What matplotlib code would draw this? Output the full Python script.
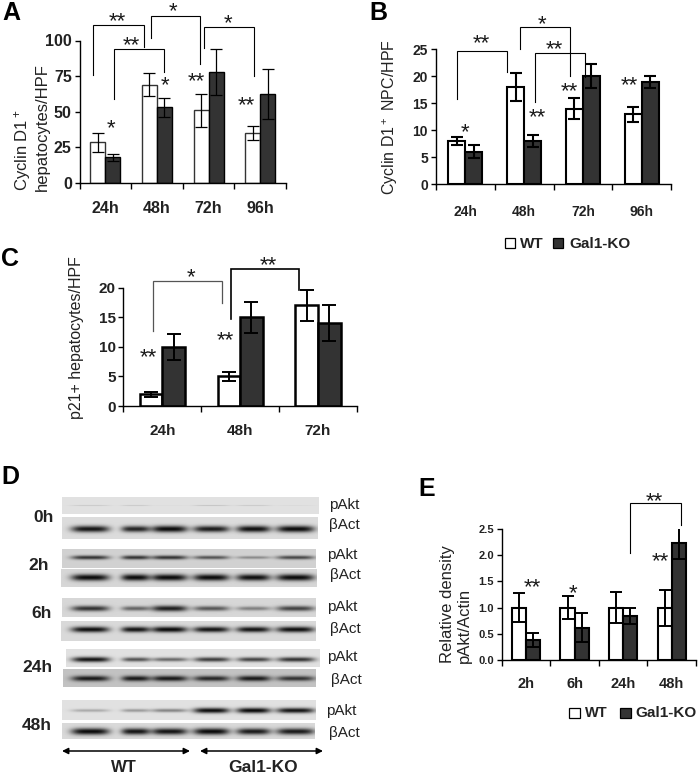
import numpy as np
import matplotlib
matplotlib.use('Agg')
import matplotlib.pyplot as plt
from matplotlib.patches import Rectangle

plt.rcParams['font.family'] = ['Liberation Sans', 'DejaVu Sans']
plt.rcParams['mathtext.default'] = 'regular'

W, H = 698, 774
DARK = '#333333'

# panel A
a_cats = ['24h', '48h', '72h', '96h']
a_wt = [28.5, 69, 51, 35]
a_ko = [18, 53, 78, 62.5]
a_wt_err = [6.5, 8, 11.5, 5]
a_ko_err = [2.3, 7, 16, 17.5]

# panel B
b_cats = ['24h', '48h', '72h', '96h']
b_wt = [8, 18, 14, 13]
b_ko = [6, 8, 20, 19]
b_wt_err = [0.8, 2.6, 2, 1.4]
b_ko_err = [1.2, 1.1, 2.2, 1.1]

# panel C
c_cats = ['24h', '48h', '72h']
c_wt = [2, 5, 17]
c_ko = [10, 15, 14]
c_wt_err = [0.4, 0.7, 2.6]
c_ko_err = [2.2, 2.6, 3]

# panel E
e_cats = ['2h', '6h', '24h', '48h']
e_wt = [1, 1, 1, 1]
e_ko = [0.38, 0.62, 0.84, 2.22]
e_wt_err = [0.27, 0.22, 0.29, 0.34]
e_ko_err = [0.13, 0.27, 0.15, 0.3]

# panel D, band strength of the six lanes, one list per blot row
blot_times = ['0h', '2h', '6h', '24h', '48h']
pakt_bands = [
    [0.10, 0.10, 0.02, 0.12, 0.10, 0.03],
    [0.78, 0.78, 0.78, 0.62, 0.35, 0.68],
    [0.80, 0.55, 0.90, 0.62, 0.42, 0.72],
    [0.95, 0.65, 0.55, 0.75, 0.72, 0.80],
    [0.25, 0.32, 0.42, 0.98, 1.00, 0.95],
]
bact_bands = [
    [0.95, 0.88, 1.00, 0.92, 0.98, 1.00],
    [1.00, 1.00, 1.00, 1.00, 0.98, 1.00],
    [0.98, 0.95, 1.00, 0.95, 0.95, 0.98],
    [0.92, 0.92, 0.92, 0.85, 0.92, 0.78],
    [1.00, 0.95, 0.95, 1.00, 0.92, 0.92],
]


def panel_axes(x0, x1, y0, y1):
    return fig.add_axes([x0/W, 1-y0/H, (x1-x0)/W, (y0-y1)/H])


def grouped(ax, cats, wt, ko, wt_err, ko_err, ymax, yticks, ylabels, edge, wt_edge,
            err_lw, cap, tick_size, cat_size, cat_pad, tick_lw=1.0):
    x = np.arange(len(cats)) + 0.5
    w = 0.29
    ax.bar(x-w/2, wt, w, color='white', edgecolor=wt_edge, linewidth=edge, zorder=2)
    ax.bar(x+w/2, ko, w, color=DARK, edgecolor='black', linewidth=edge, zorder=2)
    ax.errorbar(x-w/2, wt, yerr=wt_err, fmt='none', ecolor='black', elinewidth=err_lw,
                capsize=cap, capthick=err_lw, zorder=3)
    ax.errorbar(x+w/2, ko, yerr=ko_err, fmt='none', ecolor='black', elinewidth=err_lw,
                capsize=cap, capthick=err_lw, zorder=3)
    ax.set_xlim(0, len(cats))
    ax.set_ylim(0, ymax)
    ax.set_yticks(yticks)
    ax.set_yticklabels(ylabels, fontweight='bold', fontsize=tick_size, color='#222222')
    ax.set_xticks(np.arange(len(cats)+1))
    ax.set_xticklabels([])
    ax.set_xticks(x, minor=True)
    ax.set_xticklabels(cats, minor=True, fontweight='bold', fontsize=cat_size, color='#222222')
    ax.tick_params(axis='x', which='minor', length=0, pad=cat_pad)
    ax.tick_params(axis='x', which='major', length=4.5, width=tick_lw, direction='out')
    ax.tick_params(axis='y', length=3.5, width=tick_lw, direction='out', pad=2)
    ax.spines[['top', 'right']].set_visible(False)
    ax.spines[['left', 'bottom']].set_linewidth(tick_lw)
    ax.patch.set_alpha(0)


fig = plt.figure(figsize=(W/100, H/100), dpi=100)

ax_a = panel_axes(79.5, 286, 183, 40.5)
grouped(ax_a, a_cats, a_wt, a_ko, a_wt_err, a_ko_err, 100, [0, 25, 50, 75, 100],
        ['0', '25', '50', '75', '100'], 1.0, '#333333', 0.9, 4, 11.5, 11.5, 13)

ax_b = panel_axes(435.7, 671.3, 184.3, 49.3)
grouped(ax_b, b_cats, b_wt, b_ko, b_wt_err, b_ko_err, 25, [0, 5, 10, 15, 20, 25],
        ['0', '5', '10', '15', '20', '25'], 1.5, 'black', 1.5, 4.5, 10, 10, 15)

ax_c = panel_axes(123.3, 357, 406, 287.7)
grouped(ax_c, c_cats, c_wt, c_ko, c_wt_err, c_ko_err, 20, [0, 5, 10, 15, 20],
        ['0', '5', '10', '15', '20'], 1.8, 'black', 1.4, 5, 11, 11, 13)

ax_e = panel_axes(501.7, 696, 660.3, 528.7)
grouped(ax_e, e_cats, e_wt, e_ko, e_wt_err, e_ko_err, 2.5, [0, 0.5, 1, 1.5, 2, 2.5],
        ['0.0', '0.5', '1.0', '1.5', '2.0', '2.5'], 1.5, 'black', 1.4, 4, 8, 10.5, 12)

# overlay in image pixels for brackets, stars, labels and the blots
ov = fig.add_axes([0, 0, 1, 1], zorder=5)
ov.patch.set_alpha(0)
ov.axis('off')


def bracket(x0, x1, top, y0, y1, lw=0.8, color='black'):
    ov.plot([x0, x0, x1, x1], [y0, top, top, y1], color=color, lw=lw, solid_joinstyle='miter')


def star(x, y, s, size=16):
    # asterisk glyph sits high in the font, so push the text down
    ov.text(x, y+6, s, ha='center', va='center', fontsize=size, color='#1a1a1a')


# letters
for s, x, y in [('A', 11, 13), ('B', 378, 13), ('C', 10, 259), ('D', 10, 477), ('E', 427, 489)]:
    ov.text(x, y, s, ha='center', va='center', fontsize=18, fontweight='bold')

# panel A annotations
bracket(93.3, 143.7, 25, 75, 46.7)
bracket(114.3, 163.7, 49.3, 99, 71.7)
bracket(150.7, 200, 15.7, 37.7, 64.3)
bracket(204, 254, 27.3, 48.3, 75.7)
for x, y, s in [(117, 16, '**'), (131, 40, '**'), (173, 6, '*'), (228, 18, '*'),
                (111, 123, '*'), (165, 80, '*'), (196, 76, '**'), (246, 100, '**')]:
    star(x, y, s)
ov.text(31, 191, 'Cyclin D1$^+$\nhepatocytes/HPF', rotation=90, ha='center', va='bottom',
        ma='left', fontsize=12, linespacing=1.1, color='#222222')

# panel B annotations
bracket(457.3, 506.7, 51, 99.3, 71.7)
bracket(519.7, 569.7, 27.3, 49, 76)
bracket(535, 584.7, 53, 101.7, 76.7)
for x, y, s in [(481, 38, '**'), (542.3, 19, '*'), (554, 44, '**'), (465, 126.7, '*'),
                (537, 111.7, '**'), (569.7, 86, '**'), (629.3, 80, '**')]:
    star(x, y, s)
ov.text(390, 117.5, 'Cyclin D1$^+$ NPC/HPF', rotation=90, ha='center', va='center',
        fontsize=11.5, color='#222222')
ov.add_patch(Rectangle((505, 238), 10, 9.5, fc='white', ec='black', lw=0.9))
ov.text(520, 243.5, 'WT', va='center', fontsize=11, fontweight='bold', color='#222222')
ov.add_patch(Rectangle((553, 238), 10, 9.5, fc=DARK, ec='black', lw=0.9))
ov.text(569, 243.5, 'Gal1-KO', va='center', fontsize=11, fontweight='bold', color='#222222')

# panel C annotations
bracket(152.7, 222.3, 280.7, 330.7, 302.7, color='#555555', lw=0.9)
bracket(230.7, 299, 268.7, 319, 290, lw=1.2)
for x, y, s in [(191, 271.7, '*'), (268.7, 260, '**'), (148.3, 351.7, '**'), (225.3, 334.3, '**')]:
    star(x, y, s)
ov.text(77, 338, 'p21+ hepatocytes/HPF', rotation=90, ha='center', va='center',
        fontsize=11.5, color='#222222')

# panel E annotations
bracket(630, 680.7, 503.3, 552.7, 525)
for x, y, s in [(654, 496, '**'), (532, 581.7, '**'), (573.3, 587.3, '*'), (660.3, 555.7, '**')]:
    star(x, y, s)
ov.text(456, 663, 'Relative density\npAkt/Actin', rotation=90, ha='center', va='bottom',
        ma='left', fontsize=12, linespacing=1.1, color='#222222')
ov.add_patch(Rectangle((569, 708), 11, 10, fc='white', ec='black', lw=0.9))
ov.text(585, 713, 'WT', va='center', fontsize=10.5, fontweight='bold', color='#222222')
ov.add_patch(Rectangle((620, 708), 11, 10, fc=DARK, ec='black', lw=0.9))
ov.text(635, 713, 'Gal1-KO', va='center', fontsize=11, color='#222222', fontweight='bold')


# panel D blots
def blot(strengths, x0, x1, y0, y1, band_y, bg, thick):
    centers = np.array([90, 135, 169, 211, 253, 295]) + (x0-62.3)*0.15
    half = [19, 14, 18, 18, 17, 19]
    xs = np.arange(x0, x1)
    ys = np.arange(y0, y1)
    xx, yy = np.meshgrid(xs, ys)
    img = np.full(xx.shape, bg, dtype=float)
    for c, s, hw in zip(centers, strengths, half):
        band = s*np.exp(-((xx-c)/hw)**4)*np.exp(-((yy-band_y)/(thick*(0.45+0.6*s)))**2)
        img -= band*(bg-0.05)
    ov.imshow(img, cmap='gray', vmin=0, vmax=1, extent=[x0, x1, y1, y0], aspect='auto',
              interpolation='bilinear', zorder=1)


pakt_boxes = [(62, 319, 497, 514, 505, 0.88, 1.2), (62, 316, 549, 568, 557, 0.82, 2.3),
              (62, 316, 598, 617, 608, 0.84, 3.0), (66, 320, 649, 667, 659, 0.88, 2.6),
              (62, 316, 700, 720, 710, 0.88, 2.6)]
bact_boxes = [(62, 318, 517, 539, 528.5, 0.86, 3.2), (61, 317, 569, 587, 577, 0.84, 3.2),
              (61, 316, 621, 641, 629, 0.85, 2.8), (63, 316, 669, 687, 678, 0.76, 2.8),
              (62, 315, 723, 739, 731, 0.85, 3.2)]
for row, box in zip(pakt_bands, pakt_boxes):
    blot(row, *box)
for row, box in zip(bact_bands, bact_boxes):
    blot(row, *box)

for s, x, y in zip(blot_times, [44, 39, 42, 37, 37], [517.5, 565.5, 613.5, 667.5, 725.5]):
    ov.text(x, y, s, ha='center', va='center', fontsize=12.5, fontweight='bold', color='#222222')
for x, y in [(344, 504.5), (342, 555.5), (342, 607), (342, 657), (341, 711.5)]:
    ov.text(x, y, 'pAkt', ha='center', va='center', fontsize=11, color='#222222')
for x, y in [(344, 525), (345, 575), (345, 629.5), (346, 680), (344, 733)]:
    ov.text(x, y, 'βAct', ha='center', va='center', fontsize=11, color='#222222')

for x0, x1 in [(62, 190), (200, 323)]:
    ov.annotate('', xy=(x0, 751), xytext=(x1, 751),
                arrowprops=dict(arrowstyle='<|-|>', color='black', lw=1.1, mutation_scale=9,
                                shrinkA=0, shrinkB=0))
ov.text(124, 768, 'WT', ha='center', va='center', fontsize=12, fontweight='bold', color='#222222')
ov.text(263, 768, 'Gal1-KO', ha='center', va='center', fontsize=12.5, fontweight='bold', color='#222222')

ov.set_xlim(0, W)
ov.set_ylim(H, 0)

fig.savefig('out.png', dpi=100)
